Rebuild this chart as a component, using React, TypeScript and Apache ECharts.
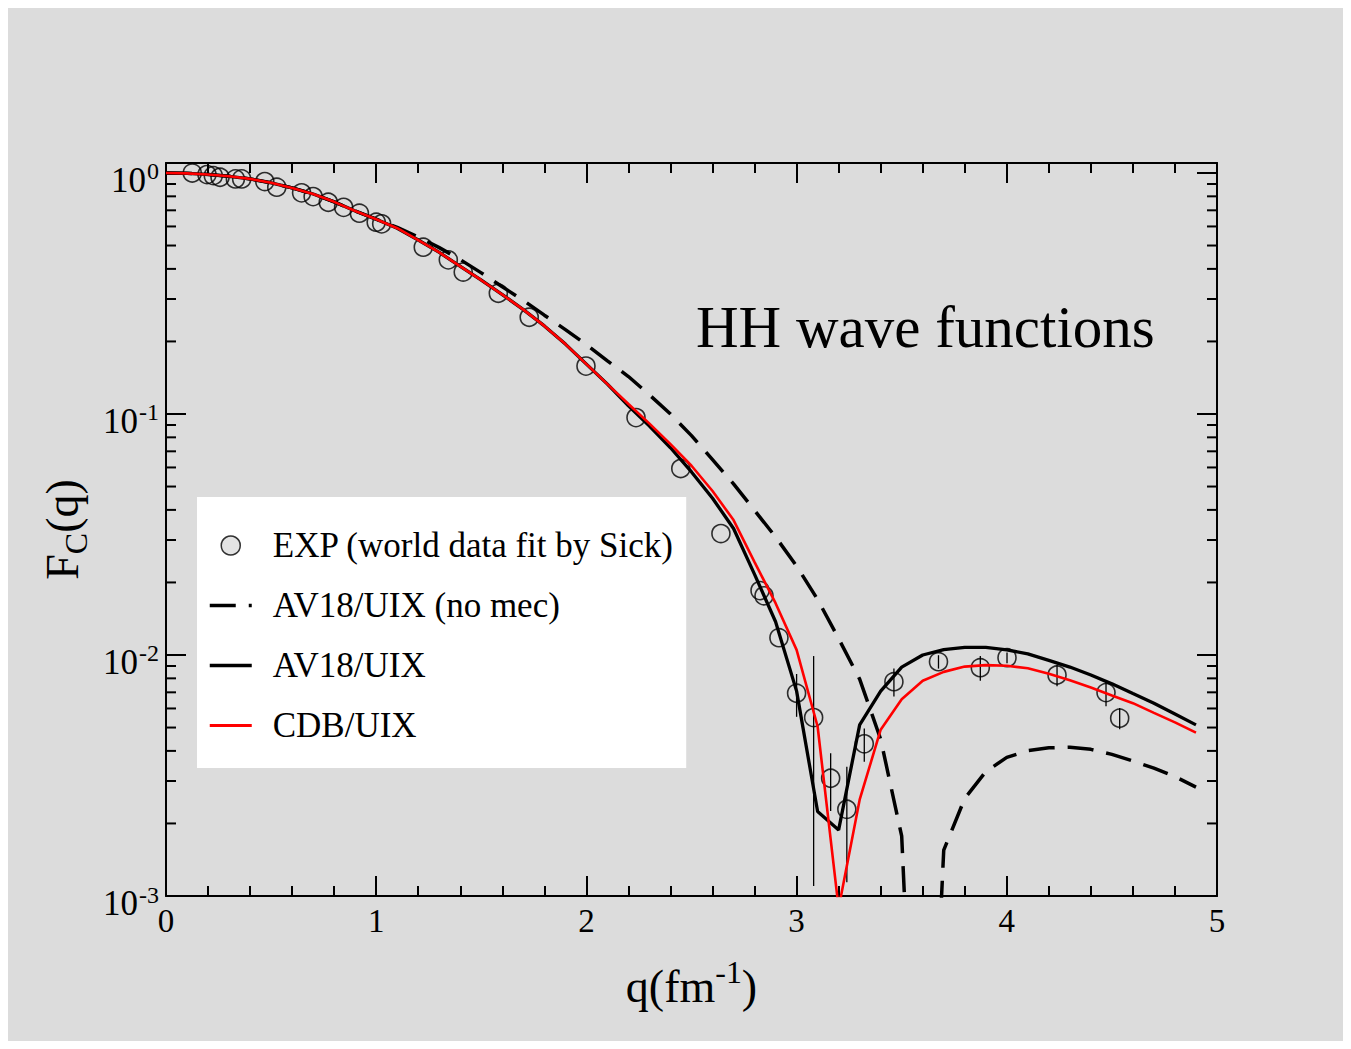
import React, { useEffect, useRef } from 'react';
import * as echarts from 'echarts';

// q grid of the theoretical curves (fm^-1)
const qGrid = [0, 0.1, 0.2, 0.3, 0.4, 0.5, 0.6, 0.7, 0.8, 0.9,
  1.0, 1.1, 1.2, 1.3, 1.4, 1.5, 1.6, 1.7, 1.8, 1.9,
  2.0, 2.1, 2.2, 2.3, 2.4, 2.5, 2.6, 2.7, 2.8, 2.9,
  3.0, 3.1, 3.2, 3.3, 3.4, 3.5, 3.6, 3.7, 3.8, 3.9,
  4.0, 4.1, 4.2, 4.3, 4.4, 4.5, 4.6, 4.7, 4.8, 4.9];

// AV18/UIX (no mec) - dashed
const fcNoMec = [1.0, 0.9965, 0.986, 0.969, 0.945, 0.91, 0.867, 0.818, 0.759, 0.695,
  0.643, 0.595, 0.543, 0.490, 0.437, 0.385, 0.337, 0.296, 0.257, 0.224,
  0.194, 0.166, 0.143, 0.120, 0.100, 0.0813, 0.0646, 0.0513, 0.0398, 0.0309,
  0.0234, 0.017, 0.0117, 0.00794, 0.00447, 0.00177, 0.000022, 0.00155, 0.00254, 0.00328,
  0.00376, 0.00401, 0.00412, 0.00414, 0.00406, 0.00387, 0.00363, 0.00339, 0.00313, 0.00283];

// AV18/UIX - solid black
const fcAV18 = [1.0, 0.9965, 0.986, 0.969, 0.945, 0.91, 0.867, 0.818, 0.759, 0.695,
  0.643, 0.590, 0.527, 0.468, 0.410, 0.359, 0.313, 0.271, 0.232, 0.195,
  0.161, 0.133, 0.108, 0.0891, 0.0724, 0.0575, 0.0447, 0.0335, 0.0216, 0.01374,
  0.00708, 0.00224, 0.00188, 0.00513, 0.00708, 0.00891, 0.0100, 0.01052, 0.01076, 0.01076,
  0.0105, 0.0101, 0.0095, 0.00891, 0.00826, 0.00759, 0.00692, 0.00631, 0.00569, 0.00513];

// CDB/UIX - red
const fcCDB = [1.0, 0.9965, 0.986, 0.969, 0.945, 0.91, 0.867, 0.818, 0.759, 0.695,
  0.643, 0.590, 0.527, 0.468, 0.410, 0.359, 0.313, 0.271, 0.232, 0.195,
  0.161, 0.133, 0.110, 0.0912, 0.075, 0.061, 0.0479, 0.0363, 0.0243, 0.0164,
  0.0105, 0.00505, 0.00089, 0.00251, 0.0049, 0.00655, 0.00782, 0.00851, 0.00895, 0.00908,
  0.00902, 0.00881, 0.00836, 0.00785, 0.00733, 0.00679, 0.00631, 0.00575, 0.00525, 0.00476];

// Experimental points (world data fit by Sick)
const expQ = [0.125, 0.195, 0.225, 0.257, 0.33, 0.36, 0.47, 0.527, 0.645, 0.70,
  0.772, 0.845, 0.92, 1.0, 1.026, 1.224, 1.343, 1.414, 1.581, 1.728,
  1.998, 2.236, 2.449, 2.64, 2.826, 2.845, 2.916, 3.0, 3.081, 3.162,
  3.239, 3.322, 3.463, 3.675, 3.874, 4.001, 4.239, 4.472, 4.537];
const expF = [1.0, 0.985, 0.975, 0.96, 0.945, 0.945, 0.921, 0.873, 0.827, 0.798,
  0.756, 0.72, 0.681, 0.625, 0.615, 0.492, 0.436, 0.388, 0.317, 0.252,
  0.158, 0.0966, 0.0594, 0.0319, 0.0185, 0.0176, 0.0118, 0.00694, 0.0055, 0.00308,
  0.00229, 0.00428, 0.00775, 0.00938, 0.00886, 0.00975, 0.00826, 0.00698, 0.00547];
const expErr = [0, 0, 0, 0, 0, 0, 0, 0, 0, 0,
  0, 0, 0, 0, 0, 0, 0, 0, 0, 0,
  0, 0, 0, 0, 0, 0, 0, 0.0014, 0.0044, 0.00083,
  0.00115, 0.00067, 0.00103, 0.0006, 0.00105, 0.0005, 0.00085, 0.00085, 0.00055];

// log-axis minor tick values
const yMinorTicks = [0.002, 0.003, 0.004, 0.005, 0.006, 0.007, 0.008, 0.009,
  0.02, 0.03, 0.04, 0.05, 0.06, 0.07, 0.08, 0.09,
  0.2, 0.3, 0.4, 0.5, 0.6, 0.7, 0.8, 0.9];

const seriesNames = ['EXP (world data fit by Sick)', 'AV18/UIX (no mec)', 'AV18/UIX', 'CDB/UIX'];
const titleText = 'HH wave functions';

const FONT = '"Liberation Serif", "Times New Roman", Times, serif';

export default function App() {
  const ref = useRef<HTMLDivElement>(null);

  useEffect(() => {
    if (!ref.current) return;
    const chart = echarts.init(ref.current, null, { renderer: 'svg' });

    const axisLineStyle = { color: '#000', width: 2 };
    const makeX = (pos: 'bottom' | 'top', main: boolean) => ({
      type: 'value',
      min: 0,
      max: 5,
      interval: 1,
      position: pos,
      axisLine: { show: true, onZero: false, lineStyle: axisLineStyle },
      axisTick: { show: true, inside: true, length: 20, lineStyle: { color: '#000', width: 2 } },
      minorTick: { show: true, splitNumber: 5, length: 10, lineStyle: { color: '#000', width: 2 } },
      splitLine: { show: false },
      axisLabel: main
        ? { show: true, fontSize: 33, fontFamily: FONT, color: '#000', margin: 8 }
        : { show: false },
      name: main ? '{t|q(fm}{s|-1}{t|)}' : '',
      nameLocation: 'middle',
      nameGap: 60,
      nameTextStyle: {
        fontFamily: FONT,
        color: '#000',
        rich: {
          t: { fontSize: 46, fontFamily: FONT, color: '#000' },
          s: { fontSize: 32, fontFamily: FONT, color: '#000', padding: [0, 0, 28, 0] },
        },
      },
    });

    const makeY = (pos: 'left' | 'right', main: boolean) => ({
      type: 'log',
      logBase: 10,
      min: 0.001,
      max: 1.1,
      position: pos,
      axisLine: { show: true, onZero: false, lineStyle: axisLineStyle },
      axisTick: { show: true, inside: true, length: 20, lineStyle: { color: '#000', width: 2 } },
      minorTick: { show: false },
      splitLine: { show: false },
      axisLabel: main
        ? {
            show: true,
            margin: 7,
            padding: [15, 0, 0, 0],
            formatter: (v: number) => {
              const l = Math.log10(v);
              const e = Math.round(l);
              if (Math.abs(l - e) > 1e-6) return '';
              return '{b|10}{s|' + (e === 0 ? '0' : String(e)) + '}';
            },
            rich: {
              b: { fontSize: 35, fontFamily: FONT, color: '#000' },
              s: { fontSize: 24, fontFamily: FONT, color: '#000', padding: [0, 0, 18, 1] },
            },
          }
        : { show: false },
      name: main ? '{t|F}{c|C}{t|(q)}' : '',
      nameLocation: 'middle',
      nameRotate: 90,
      nameGap: 54,
      nameTextStyle: {
        fontFamily: FONT,
        color: '#000',
        rich: {
          t: { fontSize: 46, fontFamily: FONT, color: '#000' },
          c: { fontSize: 32, fontFamily: FONT, color: '#000', padding: [27, 0, 0, 0] },
        },
      },
    });

    const lineData = (arr: number[]) => qGrid.map((q, i) => [q, arr[i]]);
    const hiddenSymbol = { color: 'rgba(0,0,0,0)', borderWidth: 0, opacity: 0 };

    const option: any = {
      animation: false,
      backgroundColor: '#dcdcdc',
      title: {
        text: titleText,
        left: 683,
        top: 284,
        textStyle: { fontSize: 59, fontWeight: 'normal', fontFamily: FONT, color: '#000' },
      },
      grid: { left: 158, right: 126, top: 155, bottom: 145, show: false },
      xAxis: [makeX('bottom', true), makeX('top', false)],
      yAxis: [makeY('left', true), makeY('right', false)],
      legend: {
        orient: 'vertical',
        left: 189,
        top: 489,
        backgroundColor: '#ffffff',
        padding: [31, 12, 25, 11],
        itemGap: 25,
        itemWidth: 42,
        itemHeight: 19,
        selectedMode: false,
        textStyle: { fontSize: 35, fontFamily: FONT, color: '#000', padding: [0, 0, 0, 16] },
        data: [
          {
            name: seriesNames[0],
            icon: 'circle',
            itemStyle: { color: '#dcdcdc', borderColor: '#000', borderWidth: 1.5 },
          },
          { name: seriesNames[1], itemStyle: hiddenSymbol, lineStyle: { width: 3.5, color: '#000', type: [26, 13] } },
          { name: seriesNames[2], itemStyle: hiddenSymbol, lineStyle: { width: 3.3, color: '#000' } },
          { name: seriesNames[3], itemStyle: hiddenSymbol, lineStyle: { width: 2.8, color: '#ff0000' } },
        ],
      },
      series: [
        {
          type: 'custom',
          name: 'errorbars',
          xAxisIndex: 0,
          yAxisIndex: 0,
          silent: true,
          z: 3,
          encode: { x: 0, y: [1, 2] },
          data: expQ
            .map((q, i) => [q, expF[i] - expErr[i], expF[i] + expErr[i], expErr[i]])
            .filter((d) => d[3] > 0),
          renderItem: (params: any, api: any) => {
            const p1 = api.coord([api.value(0), api.value(1)]);
            const p2 = api.coord([api.value(0), api.value(2)]);
            return {
              type: 'line',
              shape: { x1: p1[0], y1: p1[1], x2: p2[0], y2: p2[1] },
              style: { stroke: '#000', lineWidth: 1.3 },
            };
          },
        },
        {
          type: 'custom',
          name: 'minorTicks',
          xAxisIndex: 0,
          yAxisIndex: 0,
          silent: true,
          clip: false,
          z: 10,
          encode: { x: 0, y: 1 },
          data: yMinorTicks.map((v) => [0, v]),
          renderItem: (params: any, api: any) => {
            const cs = params.coordSys;
            const y = api.coord([0, api.value(1)])[1];
            return {
              type: 'group',
              children: [
                {
                  type: 'line',
                  shape: { x1: cs.x, y1: y, x2: cs.x + 10, y2: y },
                  style: { stroke: '#000', lineWidth: 2 },
                },
                {
                  type: 'line',
                  shape: { x1: cs.x + cs.width - 10, y1: y, x2: cs.x + cs.width, y2: y },
                  style: { stroke: '#000', lineWidth: 2 },
                },
              ],
            };
          },
        },
        {
          type: 'scatter',
          name: seriesNames[0],
          data: expQ.map((q, i) => [q, expF[i]]),
          symbol: 'circle',
          symbolSize: 18,
          z: 4,
          itemStyle: { color: 'rgba(0,0,0,0)', borderColor: '#000', borderWidth: 1.6 },
        },
        {
          type: 'line',
          name: seriesNames[1],
          data: lineData(fcNoMec),
          symbol: 'none',
          clip: true,
          z: 5,
          itemStyle: { color: '#000' },
          lineStyle: { color: '#000', width: 3.5, type: [26, 13] },
        },
        {
          type: 'line',
          name: seriesNames[2],
          data: lineData(fcAV18),
          symbol: 'none',
          clip: true,
          z: 5,
          itemStyle: { color: '#000' },
          lineStyle: { color: '#000', width: 3.3 },
        },
        {
          type: 'line',
          name: seriesNames[3],
          data: lineData(fcCDB),
          symbol: 'none',
          clip: true,
          z: 6,
          itemStyle: { color: '#ff0000' },
          lineStyle: { color: '#ff0000', width: 2.6 },
        },
      ],
    };

    chart.setOption(option);
    return () => chart.dispose();
  }, []);

  return <div ref={ref} style={{ width: 1335, height: 1033 }} />;
}
